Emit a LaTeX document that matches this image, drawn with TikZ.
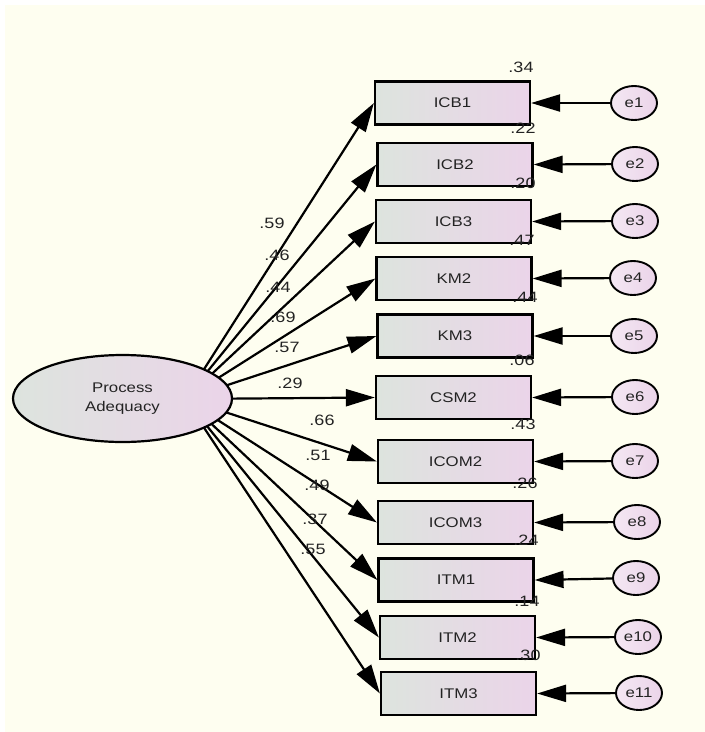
\documentclass[tikz,border=0pt]{standalone}
\usepackage{fontspec}
\setmainfont{Liberation Sans}[FakeStretch=1.2]
\usetikzlibrary{arrows.meta,shapes.geometric}

\definecolor{amosbg}{RGB}{254,254,240}
\definecolor{amosgreen}{RGB}{221,228,222}
\definecolor{amospink}{RGB}{235,212,233}
\definecolor{amostext}{RGB}{35,35,35}

\begin{document}
\begin{tikzpicture}[x=1pt,y=-1pt,>={Triangle[length=29pt,width=17pt]},
    obs/.style={draw,line width=2.2pt,left color=amosgreen,right color=amospink,
        minimum width=155pt,minimum height=43pt,inner sep=0pt,
        font=\fontsize{14}{14}\selectfont,text=amostext},
    err/.style={draw,ellipse,line width=1.9pt,left color=amospink!55!white,right color=amospink,
        minimum width=46pt,minimum height=34pt,inner sep=0pt,
        font=\fontsize{14}{14}\selectfont,text=amostext},
    latent/.style={draw,ellipse,line width=2.2pt,left color=amosgreen,right color=amospink,
        minimum width=219pt,minimum height=87pt,inner sep=0pt,align=center,
        font=\fontsize{14}{19}\selectfont,text=amostext},
    load/.style={->,line width=2.2pt},
    coef/.style={font=\fontsize{15}{15}\selectfont,text=amostext,inner sep=0pt}]

    % Background
    \useasboundingbox (0,0) rectangle (705,732);
    \fill[white] (0,0) rectangle (705,732);
    \fill[amosbg] (5,5) rectangle (705,732);

    % Indicators
    \node[obs] (icb1)  at (452.5,103)   {ICB1};
    \node[obs] (icb2)  at (455,164.5)   {ICB2};
    \node[obs] (icb3)  at (453.5,221.5) {ICB3};
    \node[obs] (km2)   at (454,278.5)   {KM2};
    \node[obs] (km3)   at (455,336)     {KM3};
    \node[obs] (csm2)  at (453.5,397.5) {CSM2};
    \node[obs] (icom2) at (455.5,461.5) {ICOM2};
    \node[obs] (icom3) at (455.5,522.5) {ICOM3};
    \node[obs] (itm1)  at (456,580)     {ITM1};
    \node[obs] (itm2)  at (457.5,637.5) {ITM2};
    \node[obs] (itm3)  at (458.5,693.5) {ITM3};

    % Error terms
    \node[err] (e1)  at (634,103) {e1};
    \node[err] (e2)  at (635,164) {e2};
    \node[err] (e3)  at (635,221) {e3};
    \node[err] (e4)  at (633,278) {e4};
    \node[err] (e5)  at (634,336) {e5};
    \node[err] (e6)  at (635,397) {e6};
    \node[err] (e7)  at (635,461) {e7};
    \node[err] (e8)  at (637,522) {e8};
    \node[err] (e9)  at (636,578) {e9};
    \node[err] (e10) at (638,637) {e10};
    \node[err] (e11) at (639,693) {e11};

    \draw[load] (e1)  -- (icb1.east);
    \draw[load] (e2)  -- (icb2.east);
    \draw[load] (e3)  -- (icb3.east);
    \draw[load] (e4)  -- (km2.east);
    \draw[load] (e5)  -- (km3.east);
    \draw[load] (e6)  -- (csm2.east);
    \draw[load] (e7)  -- (icom2.east);
    \draw[load] (e8)  -- (icom3.east);
    \draw[load] (e9)  -- (itm1.east);
    \draw[load] (e10) -- (itm2.east);
    \draw[load] (e11) -- (itm3.east);

    % Loadings (drawn from inside the factor, covered by it)
    \coordinate (hub) at (185,399);
    \draw[load] (hub) -- (icb1.west);
    \draw[load] (hub) -- (icb2.west);
    \draw[load] (hub) -- (icb3.west);
    \draw[load] (hub) -- (km2.west);
    \draw[load] (hub) -- (km3.west);
    \draw[load] (hub) -- (csm2.west);
    \draw[load] (hub) -- (icom2.west);
    \draw[load] (hub) -- (icom3.west);
    \draw[load] (hub) -- (itm1.west);
    \draw[load] (hub) -- (itm2.west);
    \draw[load] (hub) -- (itm3.west);

    % Factor
    \node[latent] (pa) at (122.5,398.5) {Process\\Adequacy};

    % Standardized weights
    \node[coef] (w1)  at (272,223) {.59};
    \node[coef] (w2)  at (277,255) {.46};
    \node[coef] (w3)  at (278,287) {.44};
    \node[coef] (w4)  at (283,317) {.69};
    \node[coef] (w5)  at (287,347) {.57};
    \node[coef] (w6)  at (290,383) {.29};
    \node[coef] (w7)  at (322,420) {.66};
    \node[coef] (w8)  at (318,455) {.51};
    \node[coef] (w9)  at (317,485) {.49};
    \node[coef] (w10) at (315,519) {.37};
    \node[coef] (w11) at (313,549) {.55};

    % Squared multiple correlations
    \node[coef] (r1)  at (521,67)  {.34};
    \node[coef] (r2)  at (523,128) {.22};
    \node[coef] (r3)  at (523,183) {.20};
    \node[coef] (r4)  at (522,240) {.47};
    \node[coef] (r5)  at (525,297) {.44};
    \node[coef] (r6)  at (522,360) {.06};
    \node[coef] (r7)  at (523,424) {.43};
    \node[coef] (r8)  at (525,483) {.26};
    \node[coef] (r9)  at (526,540) {.24};
    \node[coef] (r10) at (527,601) {.14};
    \node[coef] (r11) at (528,655) {.30};
\end{tikzpicture}
\end{document}
